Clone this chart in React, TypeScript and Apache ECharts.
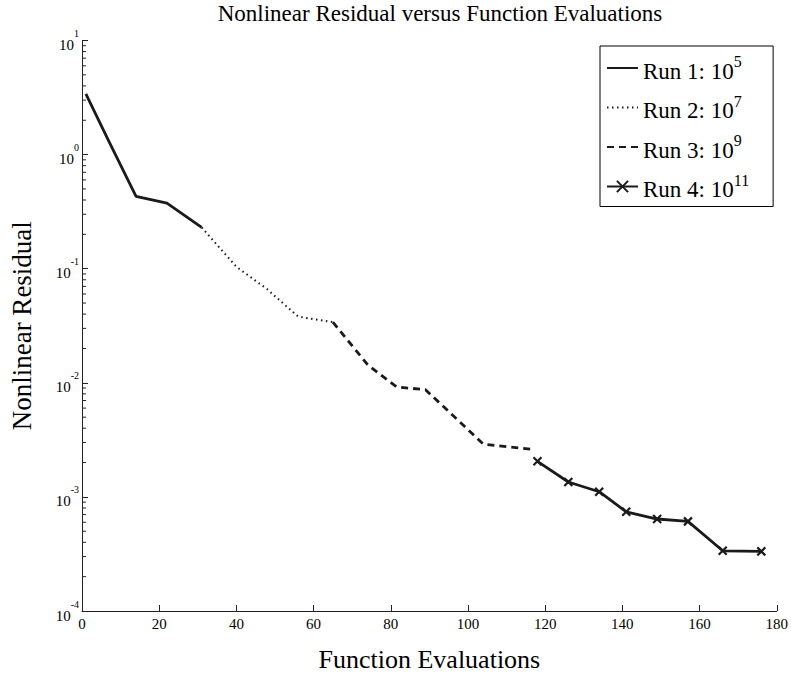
import React, { useEffect, useRef } from "react";
import * as echarts from "echarts";

const titleText = "Nonlinear Residual versus Function Evaluations";
const xName = "Function Evaluations";
const yName = "Nonlinear Residual";

const runNames = ["Run 1", "Run 2", "Run 3", "Run 4"];
const runExponents = [5, 7, 9, 11];

const run1X = [1, 7, 14, 22, 31];
const run1Y = [3.4, 1.3, 0.43, 0.375, 0.23];
const run2X = [31, 40, 48, 56, 65];
const run2Y = [0.23, 0.104, 0.066, 0.038, 0.034];
const run3X = [65, 74, 81.5, 89, 104, 117];
const run3Y = [0.034, 0.0144, 0.0092, 0.0087, 0.0029, 0.0026];
const run4X = [118, 126, 134, 141, 149, 157, 166, 176];
const run4Y = [0.00205, 0.00135, 0.00111, 0.00074, 0.00064, 0.00061, 0.000337, 0.000333];

const xMin = 0;
const xMax = 180;
const xInterval = 20;
const yMinExp = -4;
const yMaxExp = 1;
const minorMultipliers = [2, 3, 4, 5, 6, 7, 8, 9];

const FONT = "'Liberation Serif', 'DejaVu Serif', serif";
const INK = "#1a1a1a";

function pairs(xs: number[], ys: number[]) {
  return xs.map((x, i) => [x, ys[i]]);
}

export default function App() {
  const ref = useRef<HTMLDivElement>(null);
  useEffect(() => {
    document.body.style.margin = "0";
    if (!ref.current) return;
    const chart = echarts.init(ref.current, undefined, { renderer: "svg" });

    const minorVals: number[][] = [];
    for (let e = yMinExp; e < yMaxExp; e++) {
      for (const m of minorMultipliers) minorVals.push([0, m * Math.pow(10, e)]);
    }

    const supStyle = { fontSize: 16, lineHeight: 12, verticalAlign: "top", fontFamily: FONT, color: "#000" };
    const mainStyle = { fontSize: 23, lineHeight: 29, verticalAlign: "bottom", fontFamily: FONT, color: "#000" };

    const option: any = {
      animation: false,
      backgroundColor: "#fff",
      title: {
        text: titleText,
        left: 440,
        textAlign: "center",
        top: 2,
        padding: 0,
        textStyle: { fontFamily: FONT, fontSize: 23, fontWeight: "normal", color: "#000" },
      },
      grid: { left: 71, right: 12, top: 40.5, bottom: 49, containLabel: false },
      legend: {
        data: [
          { name: runNames[0], itemStyle: { opacity: 0 } },
          { name: runNames[1], itemStyle: { opacity: 0 } },
          { name: runNames[2], itemStyle: { opacity: 0 } },
          { name: runNames[3] },
        ],
        orient: "vertical",
        left: 600,
        top: 46,
        padding: [7.5, 24, 5.5, 6],
        itemWidth: 31,
        itemHeight: 14,
        itemGap: 10.5,
        borderColor: "#000",
        borderWidth: 1,
        backgroundColor: "#fff",
        formatter: (name: string) => {
          const i = runNames.indexOf(name);
          return `{main|${name}: 10}{sup|${runExponents[i]}}`;
        },
        textStyle: { fontFamily: FONT, fontSize: 23, color: "#000", rich: { main: mainStyle, sup: supStyle } },
      },
      xAxis: {
        type: "value",
        min: xMin,
        max: xMax,
        interval: xInterval,
        name: xName,
        nameLocation: "middle",
        nameGap: 35,
        nameTextStyle: { fontFamily: FONT, fontSize: 26, color: "#000" },
        axisLine: { show: true, lineStyle: { color: "#222", width: 1 } },
        axisTick: { show: true, inside: true, length: 6, lineStyle: { color: "#222", width: 1 } },
        axisLabel: { fontFamily: FONT, fontSize: 15, color: "#000", margin: 5 },
        splitLine: { show: false },
      },
      yAxis: {
        type: "log",
        logBase: 10,
        min: Math.pow(10, yMinExp),
        max: Math.pow(10, yMaxExp),
        name: yName,
        nameLocation: "middle",
        nameGap: 47,
        nameRotate: 90,
        nameTextStyle: { fontFamily: FONT, fontSize: 27, color: "#000" },
        axisLine: { show: true, lineStyle: { color: "#222", width: 1 } },
        axisTick: { show: true, inside: true, length: 6, lineStyle: { color: "#222", width: 1 } },
        axisLabel: {
          margin: 3,
          formatter: (v: number) => `{b|10}{s|${Math.round(Math.log10(v))}}`,
          rich: {
            b: { fontFamily: FONT, fontSize: 15, lineHeight: 24, verticalAlign: "bottom", color: "#000" },
            s: { fontFamily: FONT, fontSize: 10, lineHeight: 8, verticalAlign: "top", color: "#000" },
          },
        },
        splitLine: { show: false },
      },
      series: [
        {
          name: runNames[0],
          type: "line",
          data: pairs(run1X, run1Y),
          showSymbol: false,
          symbol: "none",
          lineStyle: { color: INK, width: 2.8, type: "solid" },
          itemStyle: { color: INK },
        },
        {
          name: runNames[1],
          type: "line",
          data: pairs(run2X, run2Y),
          showSymbol: false,
          symbol: "none",
          lineStyle: { color: INK, width: 2, type: [1.5, 3.5], cap: "butt" },
          itemStyle: { color: INK },
        },
        {
          name: runNames[2],
          type: "line",
          data: pairs(run3X, run3Y),
          showSymbol: false,
          symbol: "none",
          lineStyle: { color: INK, width: 2.8, type: [7, 5], cap: "butt" },
          itemStyle: { color: INK },
        },
        {
          name: runNames[3],
          type: "line",
          data: pairs(run4X, run4Y),
          symbol: "path://M0,0L10,10M10,0L0,10",
          symbolSize: 8,
          showSymbol: true,
          lineStyle: { color: INK, width: 2.8, type: "solid" },
          itemStyle: { color: INK, borderColor: INK, borderWidth: 2.2 },
        },
        {
          name: "minorTicks",
          type: "custom",
          silent: true,
          clip: false,
          z: 5,
          data: minorVals,
          renderItem: (_p: any, api: any) => {
            const pt = api.coord([api.value(0), api.value(1)]);
            return {
              type: "rect",
              shape: { x: pt[0], y: pt[1] - 0.5, width: 4, height: 1 },
              style: { fill: "#222" },
            };
          },
        },
      ],
    };
    chart.setOption(option);
    return () => chart.dispose();
  }, []);
  return <div ref={ref} style={{ width: 791, height: 677 }} />;
}
